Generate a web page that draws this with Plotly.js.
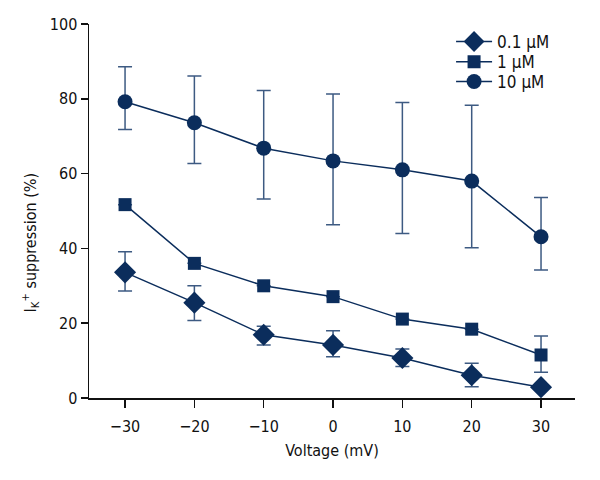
<!DOCTYPE html>
<html>
<head>
<meta charset="utf-8">
<script src="https://cdn.plot.ly/plotly-3.0.1.min.js"></script>
<style>html,body{margin:0;padding:0;background:#fff}#chart{width:600px;height:480px}</style>
</head>
<body>
<div id="chart"></div>
<script>
var voltage = [-30, -20, -10, 0, 10, 20, 30];
var voltageLabels = ['\u221230', '\u221220', '\u221210', '0', '10', '20', '30'];

var low_mean = [33.6, 25.5, 16.9, 14.2, 10.7, 6.1, 2.9];
var low_plus = [5.5, 4.5, 2.3, 3.8, 2.4, 3.2, 0];
var low_minus = [5.0, 4.8, 2.7, 3.2, 2.3, 3.1, 0];

var mid_mean = [51.7, 36.0, 30.0, 27.1, 21.1, 18.4, 11.5];
var mid_plus = [0, 0, 0, 0, 0, 0, 5.1];
var mid_minus = [0, 0, 0, 0, 0, 0, 4.6];

var high_mean = [79.2, 73.6, 66.8, 63.4, 61.0, 58.0, 43.1];
var high_plus = [9.4, 12.5, 15.4, 17.9, 18.0, 20.3, 10.5];
var high_minus = [7.4, 10.9, 13.6, 17.1, 17.0, 17.8, 8.9];

var seriesNames = ['0.1 \u03bcM', '1 \u03bcM', '10 \u03bcM'];

var navy = '#0b2d5c';
var errColor = '#3d5a82';
var fontFam = '"DejaVu Sans Condensed", "Liberation Sans Narrow", "Roboto", sans-serif';

function mk(name, y, plus, minus, symbol, size, legendId) {
  return {
    x: voltage, y: y, name: name, type: 'scatter', mode: 'lines+markers',
    legend: legendId,
    line: {color: navy, width: 1.5},
    marker: {symbol: symbol, size: size, color: navy},
    error_y: {type: 'data', symmetric: false, array: plus, arrayminus: minus,
              color: errColor, thickness: 1.5, width: 7},
    cliponaxis: false
  };
}

var data = [
  mk(seriesNames[0], low_mean, low_plus, low_minus, 'diamond', 17, 'legend'),
  mk(seriesNames[1], mid_mean, mid_plus, mid_minus, 'square', 13, 'legend2'),
  mk(seriesNames[2], high_mean, high_plus, high_minus, 'circle', 15, 'legend3')
];

function leg(y) {
  return {x: 0.745, y: y, xanchor: 'left', yanchor: 'middle', bgcolor: 'rgba(0,0,0,0)',
          font: {family: fontFam, size: 17, color: '#111'}, itemwidth: 36};
}

var layout = {
  width: 600, height: 480,
  margin: {l: 89, r: 25, t: 24, b: 82},
  paper_bgcolor: '#fff', plot_bgcolor: '#fff',
  font: {family: fontFam, size: 16, color: '#111'},
  showlegend: true,
  legend: leg(0.952),
  legend2: leg(0.898),
  legend3: leg(0.845),
  xaxis: {
    range: [-35.2, 34.9], tickvals: voltage, ticktext: voltageLabels,
    showgrid: false, zeroline: false, showline: true, linecolor: '#111', linewidth: 1.5,
    ticks: 'outside', ticklen: 8, tickwidth: 1.5, tickcolor: '#111', ticklabelstandoff: 5,
    tickfont: {family: fontFam, size: 16, color: '#111'},
    title: {text: 'Voltage (mV)', font: {family: fontFam, size: 16, color: '#111'}, standoff: 10}
  },
  yaxis: {
    range: [0, 100], tickvals: [0, 20, 40, 60, 80, 100],
    showgrid: false, zeroline: false, showline: true, linecolor: '#111', linewidth: 1.5,
    ticks: 'outside', ticklen: 7, tickwidth: 1.5, tickcolor: '#111',
    tickfont: {family: fontFam, size: 16, color: '#111'}
  },
  annotations: [{
    text: 'I<sub>K</sub><sup>+</sup> suppression (%)', textangle: -90,
    xref: 'paper', yref: 'paper', x: -0.12, y: 0.415, xanchor: 'center', yanchor: 'middle',
    showarrow: false, font: {family: fontFam, size: 16, color: '#111'}
  }]
};

Plotly.newPlot('chart', data, layout, {displayModeBar: false, staticPlot: true});
</script>
</body>
</html>
